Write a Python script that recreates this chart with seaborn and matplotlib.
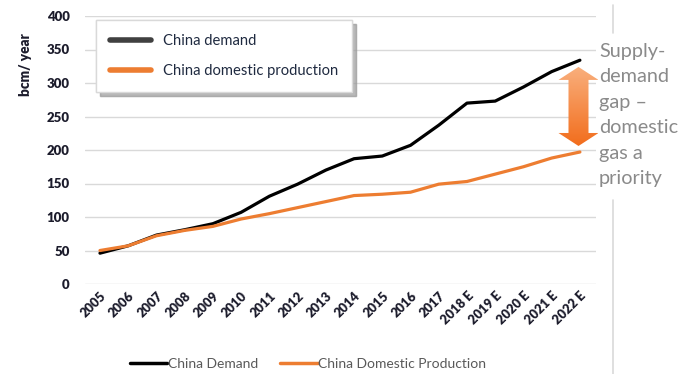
import numpy as np
import pandas as pd
import matplotlib
matplotlib.use("Agg")
import matplotlib.pyplot as plt
import seaborn as sns
from matplotlib.lines import Line2D
from matplotlib.patches import Polygon

years = ["2005", "2006", "2007", "2008", "2009", "2010", "2011", "2012", "2013",
         "2014", "2015", "2016", "2017", "2018 E", "2019 E", "2020 E", "2021 E", "2022 E"]
demand = [46, 57, 73, 81, 90, 107, 131, 149, 170, 187, 191, 207, 237, 270, 273, 294, 317, 334]
production = [50, 57, 72, 80, 86, 97, 105, 114, 123, 132, 134, 137, 149, 153, 164, 175, 188, 197]
yticks = [0, 50, 100, 150, 200, 250, 300, 350, 400]

DEMAND_C = "#000000"
PROD_C = "#ED7D31"
TICK_C = "#1c1c2c"

sns.set_theme(style="white")
plt.rcParams['font.family'] = ['Lato', 'DejaVu Sans']

W, H = 691, 374
fig = plt.figure(figsize=(W / 100, H / 100), dpi=100)
ax = fig.add_axes([85 / W, 1 - 284 / H, (596 - 85) / W, (284 - 16) / H])

df = pd.DataFrame({"idx": np.arange(len(years)), "demand": demand, "production": production})
sns.lineplot(data=df, x="idx", y="demand", ax=ax, color=DEMAND_C, lw=2.3, zorder=3)
sns.lineplot(data=df, x="idx", y="production", ax=ax, color=PROD_C, lw=2.3, zorder=3)

ax.set_xlim(-0.53, len(years) - 1 + 0.57)
ax.set_ylim(0, 400)
ax.set_yticks(yticks)
ax.set_yticklabels([str(v) for v in yticks], fontsize=9.5, fontweight="heavy", color=TICK_C)
ax.set_xticks(np.arange(len(years)))
ax.set_xticklabels(years, rotation=45, ha="right", rotation_mode="anchor",
                   fontsize=9.3, fontweight="heavy", color=TICK_C)
ax.tick_params(axis="y", length=0, pad=11)
ax.tick_params(axis="x", length=0, pad=4)
ax.grid(axis="y", color="#d9d9d9", lw=1.0)
ax.grid(axis="x", visible=False)
for s in ax.spines.values():
    s.set_visible(False)
ax.set_xlabel("")
ax.set_ylabel("bcm/ year", fontsize=9.8, fontweight="heavy", color=TICK_C)
ax.yaxis.set_label_coords(-0.104, 0.82)

# inner legend
h_in = [Line2D([], [], color="#404040", lw=4), Line2D([], [], color=PROD_C, lw=4)]
leg = ax.legend(h_in, ["China demand", "China domestic production"],
                loc="upper left", bbox_to_anchor=(0.0215, 0.985), borderaxespad=0,
                fontsize=10.6, handlelength=2.8, handletextpad=0.8, labelspacing=1.1,
                borderpad=0.95, frameon=True, fancybox=False,
                shadow={"color": "#9a9a9a", "alpha": 0.45, "ox": 3, "oy": -3},
                edgecolor="#d9d9d9", facecolor="white", framealpha=1)
for t in leg.get_texts():
    t.set_color("#1f2a40")
ax.add_artist(leg)

# bottom legend
h_out = [Line2D([], [], color=DEMAND_C, lw=2.5), Line2D([], [], color=PROD_C, lw=2.5)]
leg2 = fig.legend(h_out, ["China Demand", "China Domestic Production"],
                  loc="center", bbox_to_anchor=(308 / W, 1 - 364 / H), ncol=2,
                  frameon=False, fontsize=10, handlelength=2.7, handletextpad=0.05,
                  columnspacing=1.6)
for t in leg2.get_texts():
    t.set_color("#595959")

# gap arrow
fig.canvas.draw()
xi = len(years) - 1 - 0.05
top_px = ax.transData.transform((xi, demand[-1] - 10))
bot_px = ax.transData.transform((xi, production[-1] + 9))
cx = top_px[0]
yt, yb = top_px[1], bot_px[1]
hw, sw, hl = 20, 10, 13
pts_px = [(cx, yt), (cx + hw, yt - hl), (cx + sw, yt - hl), (cx + sw, yb + hl), (cx + hw, yb + hl),
          (cx, yb), (cx - hw, yb + hl), (cx - sw, yb + hl), (cx - sw, yt - hl), (cx - hw, yt - hl)]
pts_data = ax.transData.inverted().transform(pts_px)
poly = Polygon(pts_data, closed=True, facecolor="none", edgecolor="none", clip_on=False)
ax.add_patch(poly)
x0, y0 = pts_data[:, 0].min(), pts_data[:, 1].min()
x1, y1 = pts_data[:, 0].max(), pts_data[:, 1].max()
grad = np.linspace(0, 1, 256).reshape(-1, 1)
cmap = matplotlib.colors.LinearSegmentedColormap.from_list("g", ["#F26D1C", "#F9B07E"])
im = ax.imshow(grad, extent=(x0, x1, y0, y1), origin="lower", cmap=cmap, aspect="auto", zorder=4)
im.set_clip_path(poly)
im.set_clip_box(fig.bbox)
ax.set_xlim(-0.53, len(years) - 1 + 0.57)
ax.set_ylim(0, 400)

fig.text(599 / W, 1 - 43 / H, "Supply-\ndemand\ngap \u2013\ndomestic\ngas a\npriority",
         ha="left", va="top", fontsize=14.3, color="#8a8a8a", linespacing=1.6)

# separator line on the right
fig.add_artist(Line2D([613 / W, 613 / W], [1 - 5 / H, 1 - 33 / H], color="#d9d9d9", lw=1.2))
fig.add_artist(Line2D([613 / W, 613 / W], [1 - 200 / H, 0], color="#d9d9d9", lw=1.2))

fig.savefig("out.png", dpi=100)
